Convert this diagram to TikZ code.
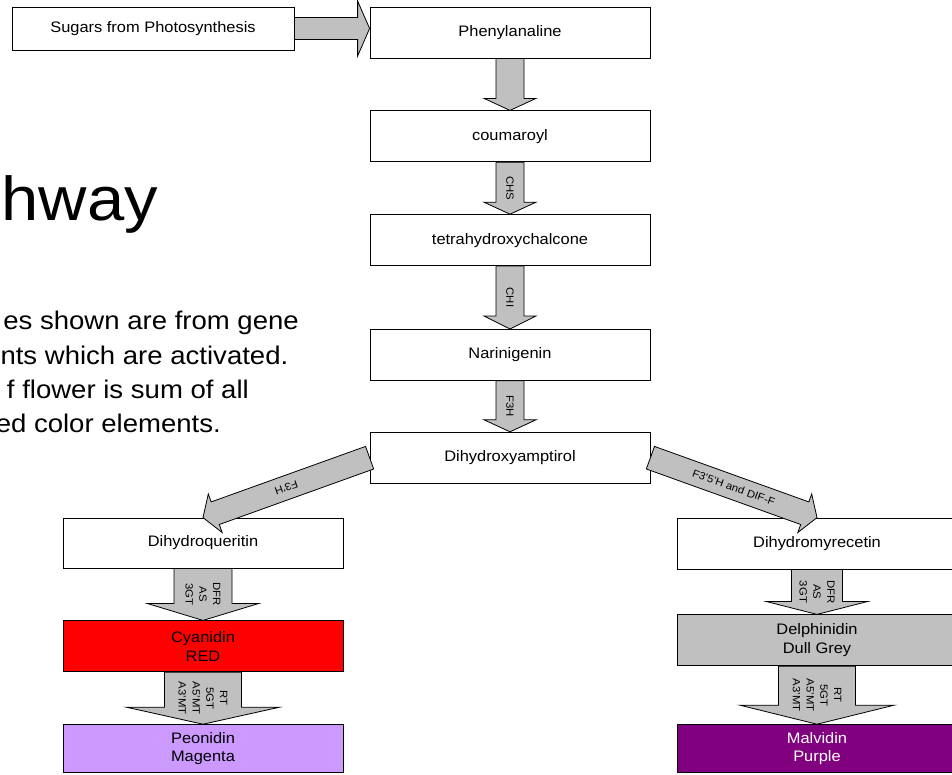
\documentclass[tikz,border=0pt]{standalone}
\usepackage{fontspec}
\setmainfont{Liberation Sans}[FakeStretch=1.08]
\usepackage{tikz}
\usetikzlibrary{positioning,calc}

\definecolor{arrowgrey}{RGB}{192,192,192}
\definecolor{cyanidinred}{RGB}{255,0,0}
\definecolor{peonidinlilac}{RGB}{204,153,255}
\definecolor{delphinidingrey}{RGB}{192,192,192}
\definecolor{malvidinpurple}{RGB}{128,0,128}

% block arrow from #1 to #2, half shaft #3, half head #4, head length #5
\newcommand{\fatarrow}[5]{%
  \coordinate (fa) at ($(#2)!#5!(#1)$);
  \draw[fat arrow] ($(#1)!#3!90:(#2)$) -- ($(fa)!#3!-90:(#1)$)
    -- ($(fa)!#4!-90:(#1)$) -- (#2) -- ($(fa)!#4!90:(#1)$)
    -- ($(fa)!#3!90:(#1)$) -- ($(#1)!#3!-90:(#2)$) -- cycle;}

\begin{document}
\begin{tikzpicture}[x=1pt, y=-1pt,
  pathbox/.style={draw, line width=0.8pt, fill=white, minimum width=280pt, minimum height=51pt, inner sep=0pt, align=center, font=\fontsize{15.2}{18.5}\selectfont},
  fat arrow/.style={draw, line width=0.8pt, fill=arrowgrey, line join=miter},
  enzyme/.style={font=\fontsize{10.5}{13.8}\selectfont, align=center, inner sep=0pt, sloped, allow upside down},
  note/.style={anchor=base east, inner sep=0pt, font=\fontsize{25.5}{34.3}\selectfont}]
  \useasboundingbox (0,0) rectangle (952,774);
  \clip (0,0) rectangle (952,774);

  \node[anchor=base east, inner sep=0pt, font=\fontsize{62}{74}\selectfont] (title) at (158,220) {hway};
  \node[note] (note1) at (299,329) {es shown are from gene};
  \node[note] (note2) at (288.5,364) {nts which are activated.};
  \node[note] (note3) at (249,398) {f flower is sum of all};
  \node[note] (note4) at (221,432) {ed color elements.};

  \node[pathbox, minimum width=282pt, minimum height=43pt] (sug) at (153,28.5) {Sugars from Photosynthesis};
  \node[pathbox] (phe) at (510,32.5) {Phenylanaline};
  \node[pathbox, below=52pt of phe] (coum) {coumaroyl};
  \node[pathbox, below=52pt of coum] (tetra) {tetrahydroxychalcone};
  \node[pathbox, below=63pt of tetra] (nar) {Narinigenin};
  \node[pathbox, below=51pt of nar] (dihx) {Dihydroxyamptirol};

  \node[pathbox, minimum height=50pt] (dq) at (203,543) {Dihydroqueritin};
  \node[pathbox, fill=cyanidinred, below=52pt of dq] (cy) {Cyanidin\\RED};
  \node[pathbox, fill=peonidinlilac, minimum height=48pt, below=52pt of cy] (pe) {Peonidin\\Magenta};

  \node[pathbox] (dm) at (817,543.5) {Dihydromyrecetin};
  \node[pathbox, fill=delphinidingrey, below=45pt of dm] (de) {Delphinidin\\Dull Grey};
  \node[pathbox, fill=malvidinpurple, text=white, minimum height=48pt, below=58pt of de] (ma) {Malvidin\\Purple};

  \coordinate (sugtip) at (sug.east -| phe.west);
  \fatarrow{sug.east}{sugtip}{11pt}{27.5pt}{12pt}
  \fatarrow{phe.south}{coum.north}{14pt}{26pt}{12pt}
  \fatarrow{coum.south}{tetra.north}{14pt}{26pt}{12pt}
  \fatarrow{tetra.south}{nar.north}{14pt}{26pt}{13pt}
  \fatarrow{nar.south}{dihx.north}{14pt}{26pt}{12pt}
  \fatarrow{dihx.west}{dq.north}{12pt}{20.5pt}{13pt}
  \fatarrow{dihx.east}{dm.north}{12pt}{20.5pt}{13pt}
  \fatarrow{dq.south}{cy.north}{29pt}{56pt}{17pt}
  \fatarrow{cy.south}{pe.north}{38.5pt}{76.5pt}{17pt}
  \fatarrow{dm.south}{de.north}{25.5pt}{51pt}{13pt}
  \fatarrow{de.south}{ma.north}{38.5pt}{77pt}{19pt}

  \path (coum.south) -- node[enzyme] (chs) {CHS} (tetra.north);
  \path (tetra.south) -- node[enzyme] (chi) {CHI} (nar.north);
  \path (nar.south) -- node[enzyme] (f3h) {F3H} (dihx.north);
  \path (dihx.west) -- node[enzyme] (f3ph) {F3'H} (dq.north);
  \path (dihx.east) -- node[enzyme] (f35h) {F3'5'H and DIF-F} (dm.north);
  \path (dq.south) -- node[enzyme] (dfrleft) {DFR\\AS\\3GT} (cy.north);
  \path (cy.south) -- node[enzyme] (rtleft) {RT\\5GT\\A5'MT\\A3'MT} (pe.north);
  \path (dm.south) -- node[enzyme] (dfrright) {DFR\\AS\\3GT} (de.north);
  \path (de.south) -- node[enzyme] (rtright) {RT\\5GT\\A5'MT\\A3'MT} (ma.north);
\end{tikzpicture}
\end{document}
